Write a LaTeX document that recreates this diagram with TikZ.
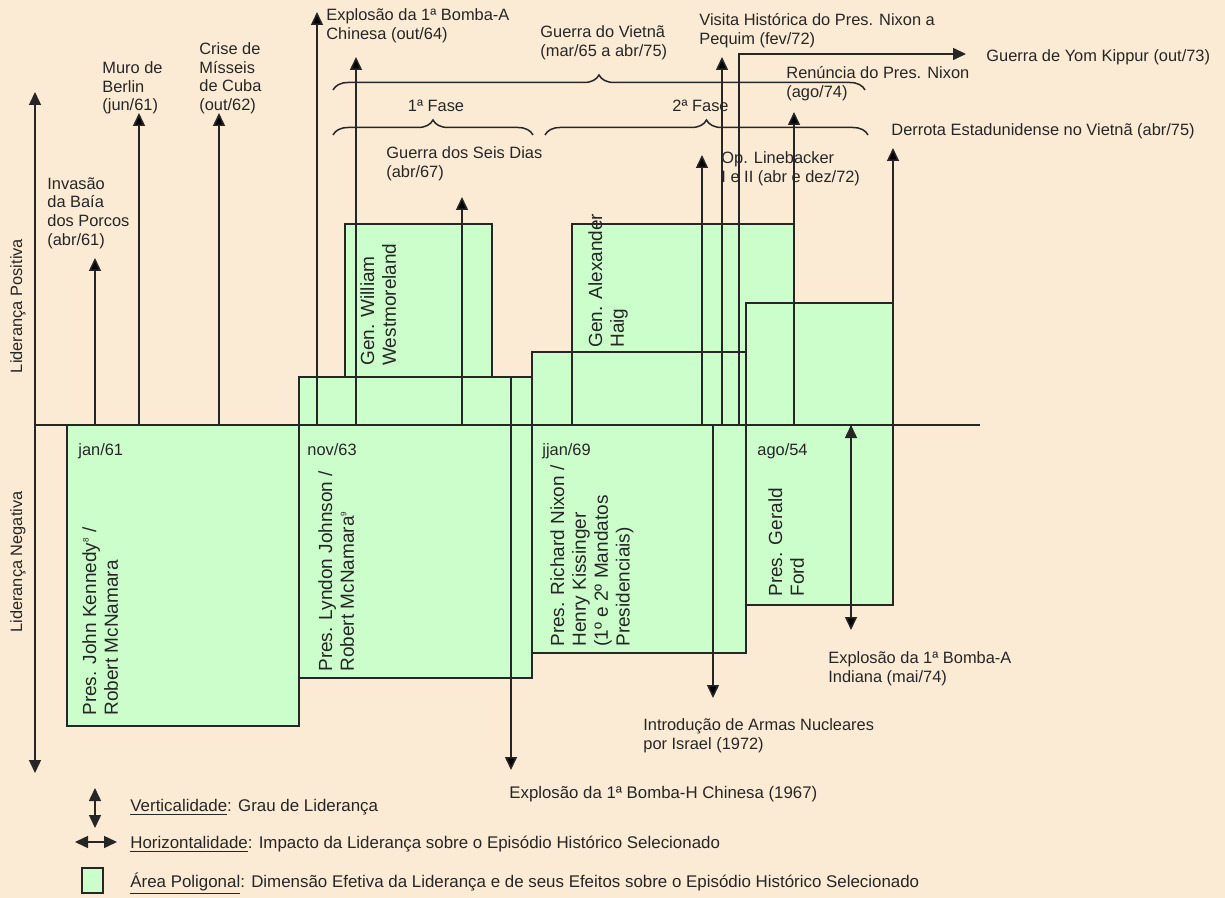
\documentclass[tikz,border=0pt]{standalone}
\usepackage{fontspec}
\setmainfont{Liberation Sans}
\usetikzlibrary{arrows.meta,decorations.pathreplacing}

\definecolor{paper}{HTML}{FCEBD4}
\definecolor{area}{HTML}{CCFECC}
\definecolor{ink}{HTML}{262626}

\begin{document}
\begin{tikzpicture}[x=0.5pt,y=-0.5pt,
    font=\fontsize{8.2}{9.4}\selectfont,
    every node/.style={text=ink,inner sep=0pt},
    lbl/.style={align=left,anchor=north west},
    one/.style={anchor=base west},
    vlbl/.style={align=left,rotate=90,anchor=north west,font=\fontsize{9.5}{10.9}\selectfont},
    leg/.style={anchor=base west,font=\fontsize{8.45}{10}\selectfont},
    line/.style={draw=ink,line width=0.75pt},
    tip/.style={line,-{Triangle[length=6.5pt,width=6pt]}},
    tips/.style={line,{Triangle[length=6.5pt,width=6pt]}-{Triangle[length=6.5pt,width=6pt]}},
    bracket/.style={line,decorate,decoration={brace,amplitude=7.5pt}}]

\useasboundingbox[fill=paper] (0,0) rectangle (1225,898);

% areas
\fill[area] (67,425) rectangle (299,726)
  (299,377) rectangle (532,678)
  (345,224) rectangle (492,377)
  (532,352) rectangle (746,653)
  (572,224) rectangle (794,352)
  (746,303) rectangle (893,605);
\draw[line] (67,425) rectangle (299,726);
\draw[line] (299,377) rectangle (532,678);
\draw[line] (345,224) rectangle (492,377);
\draw[line] (532,352) rectangle (746,653);
\draw[line] (572,224) rectangle (794,425);
\draw[line] (746,303) rectangle (893,605);

% axes
\coordinate (top) at (35,92);
\coordinate (bot) at (35,773);
\coordinate (o) at (35,425);
\coordinate (end) at (980,425);
\draw[tips] (top) -- (bot);
\draw[line] (o) -- (end);

% events above
\coordinate (inv0) at (95,425);   \coordinate (inv) at (95,258);
\coordinate (muro0) at (139,425); \coordinate (muro) at (139,113);
\coordinate (cub0) at (219,425);  \coordinate (cub) at (219,113);
\coordinate (bA0) at (317,425);   \coordinate (bA) at (317,12);
\coordinate (chi0) at (356,425);  \coordinate (chi) at (356,57);
\coordinate (six0) at (462,425);  \coordinate (six) at (462,197);
\coordinate (lb0) at (702,425);   \coordinate (lb) at (702,155);
\coordinate (peq0) at (722,425);  \coordinate (peq) at (722,57);
\coordinate (yom0) at (739,425);  \coordinate (yomc) at (739,54);
\coordinate (yom) at (966,54);
\coordinate (ren0) at (794,425);  \coordinate (ren) at (794,112);
\coordinate (der0) at (893,425);  \coordinate (der) at (893,148);
% events below
\coordinate (bH0) at (511,377);   \coordinate (bH) at (511,770);
\coordinate (isr0) at (713,425);  \coordinate (isr) at (713,698);
\coordinate (ind0) at (851,425);  \coordinate (ind) at (851,630);

\path[tip]
  (inv0) edge (inv)
  (muro0) edge (muro)
  (cub0) edge (cub)
  (bA0) edge (bA)
  (chi0) edge (chi)
  (six0) edge (six)
  (lb0) edge (lb)
  (peq0) edge (peq)
  (ren0) edge (ren)
  (der0) edge (der)
  (bH0) edge (bH)
  (isr0) edge (isr)
  (ind0) edge (ind)
  ;
\draw[tip] (yom0) -- (yomc) -- (yom);

% braces
\draw[bracket] (333,90) -- (865,90);
\draw[bracket] (333,135) -- (533,135);
\draw[bracket] (545,135) -- (868,135);

% axis labels
\node[rotate=90] (pos) at (18,306) {Liderança Positiva};
\node[rotate=90] (neg) at (18,562) {Liderança Negativa};

% event labels
\node[lbl] (invt) at (47,177) {Invasão\\da Baía\\dos Porcos\\(abr/61)};
\node[lbl] (murot) at (102,61) {Muro de\\Berlin\\(jun/61)};
\node[lbl] (cubt) at (199,42) {Crise de\\Mísseis\\de Cuba\\(out/62)};
\node[lbl] (bAt) at (326,8) {Explosão da 1ª Bomba-A\\Chinesa (out/64)};
\node[lbl] (viet) at (540,25) {Guerra do Vietnã\\(mar/65 a abr/75)};
\node[anchor=base] (f1) at (436,112) {1ª Fase};
\node[one] (f2) at (672,112) {2ª Fase};
\node[lbl] (sixt) at (386,146) {Guerra dos Seis Dias\\(abr/67)};
\node[lbl] (peqt) at (699,13) {Visita Histórica do Pres. Nixon a\\Pequim (fev/72)};
\node[one] (yomt) at (986,62) {Guerra de Yom Kippur (out/73)};
\node[lbl] (rent) at (786,66) {Renúncia do Pres. Nixon\\(ago/74)};
\node[one] (dert) at (891,136) {Derrota Estadunidense no Vietnã (abr/75)};
\node[lbl] (lbt) at (721,151) {Op. Linebacker\\I e II (abr e dez/72)};
\node[one,font=\fontsize{8.4}{9.6}\selectfont] (bHt) at (509,798) {Explosão da 1ª Bomba-H Chinesa (1967)};
\node[lbl] (isrt) at (643,718) {Introdução de Armas Nucleares\\por Israel (1972)};
\node[lbl] (indt) at (828,651) {Explosão da 1ª Bomba-A\\Indiana (mai/74)};

% dates
\node[one] (d61) at (78,455) {jan/61};
\node[one] (d63) at (307,455) {nov/63};
\node[one] (d69) at (542,455) {jjan/69};
\node[one] (d74) at (757,455) {ago/54};

% leaders
\node[vlbl] (jfk) at (82,716) {Pres. John Kennedy\textsuperscript{\fontsize{4}{4}\selectfont 8} /\\Robert McNamara};
\node[vlbl] (lbj) at (318,672) {Pres. Lyndon Johnson /\\Robert McNamara\textsuperscript{\fontsize{4}{4}\selectfont 9}};
\node[vlbl] (wm) at (360,366) {Gen. William\\Westmoreland};
\node[vlbl] (rmn) at (550,647) {Pres. Richard Nixon /\\Henry Kissinger\\(1º e 2º Mandatos\\Presidenciais)};
\node[vlbl] (haig) at (588,348) {Gen. Alexander\\Haig};
\node[vlbl] (ford) at (768,597) {Pres. Gerald\\Ford};

% legend
\coordinate (v1) at (95,788); \coordinate (v2) at (95,828);
\coordinate (h1) at (75,842); \coordinate (h2) at (117,842);
\draw[tips] (v1) -- (v2);
\draw[tips] (h1) -- (h2);
\draw[line,fill=area] (82,868) rectangle (103,893);
\node[leg] (lv) at (130,811) {\underline{Verticalidade}: Grau de Liderança};
\node[leg] (lh) at (130,848) {\underline{Horizontalidade}: Impacto da Liderança sobre o Episódio Histórico Selecionado};
\node[leg] (la) at (130,887) {\underline{Área Poligonal}: Dimensão Efetiva da Liderança e de seus Efeitos sobre o Episódio Histórico Selecionado};
\end{tikzpicture}
\end{document}
